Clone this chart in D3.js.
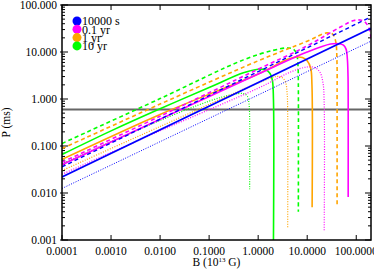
<!DOCTYPE html>
<html>
<head>
<meta charset="utf-8">
<script src="https://cdn.jsdelivr.net/npm/d3@7"></script>
<style>
  body { margin: 0; background: #fff; }
  svg { display: block; font-family: "Liberation Serif", "DejaVu Serif", serif; }
  .line { fill: none; }
</style>
</head>
<body>
<div id="chart"></div>
<script>
// P (ms) against B (10^13 G): [B, P]
const blueSolid = [[1e-4, 0.022], [200, 32]];
const blueDashed = [[1e-4, 0.036], [200, 56]];
const blueDotted = [[1e-4, 0.0125], [200, 17]];

const magentaSolid = [[1e-4, 0.040], [1e-2, 0.37], [1, 3.4], [10, 10], [30, 14.8], [45, 15], [55, 14],
  [62, 11.5], [66, 7], [68, 3], [68.5, 1], [68.5, 0.0082]];
const magentaDashed = [[1e-4, 0.045], [1e-2, 0.43], [1, 4.3], [10, 13.5], [50, 35], [90, 47], [120, 48],
  [150, 44], [180, 33], [200, 20]];
const magentaDotted = [[1e-4, 0.025], [1e-2, 0.21], [1, 1.7], [5, 3.9], [10, 4.8], [14, 4.7], [18, 3.8],
  [21, 2.2], [22.2, 0.8], [22.2, 0.0015]];

const orangeSolid = [[1e-4, 0.052], [1e-2, 0.47], [1, 3.4], [4, 7.0], [6, 7.8], [8, 7.6], [10, 6.5],
  [11.8, 4.5], [12.5, 2], [12.6, 0.005]];
const orangeDashed = [[1e-4, 0.088], [1e-2, 0.78], [1, 6.5], [10, 17], [25, 25.5], [33, 24], [38, 17],
  [40.5, 6], [40.7, 1], [40.7, 0.005]];
const orangeDotted = [[1e-4, 0.030], [1e-2, 0.26], [1, 2.2], [2.3, 3.0], [3.0, 2.9], [3.6, 2.3],
  [3.9, 1.3], [4.0, 0.5], [4.0, 0.0018]];

const greenSolid = [[1e-4, 0.066], [1e-3, 0.21], [1e-2, 0.62], [0.1, 1.75], [0.5, 3.6], [1, 4.3],
  [1.4, 4.2], [1.75, 3.5], [1.95, 2.5], [2.05, 1], [2.05, 0.0009]];
const greenDashed = [[1e-4, 0.113], [1e-2, 1.02], [0.5, 6.8], [2, 10.8], [4, 12.2], [5.3, 11.4],
  [6.1, 9], [6.5, 5], [6.6, 2], [6.6, 0.004]];
const greenDotted = [[1e-4, 0.042], [1e-2, 0.35], [0.1, 0.9], [0.3, 1.25], [0.5, 1.3], [0.6, 1.15],
  [0.65, 0.8], [0.67, 0.4], [0.67, 0.012]];

const refPeriod = 0.6;

const legendLabels = ['10000 s', '0.1 yr', '1 yr', '10 yr'];
const legendColors = ['#0000ff', '#ff00ff', '#ffa500', '#00ff00'];

const xTicks = [1e-4, 1e-3, 1e-2, 1e-1, 1, 10, 100];
const yTicks = [0.001, 0.01, 0.1, 1, 10, 100];

function periodChart(parent) {
  const width = 374;
  const height = 280;
  const margin = { top: 5, right: 3, bottom: 40, left: 62 };
  const innerW = width - margin.left - margin.right;
  const innerH = height - margin.top - margin.bottom;

  const x = d3.scaleLog().domain([1e-4, 200]).range([0, innerW]);
  const y = d3.scaleLog().domain([0.001, 100]).range([innerH, 0]);

  const svg = d3.select(parent).append('svg')
      .attr('width', width)
      .attr('height', height);

  svg.append('defs').append('clipPath')
      .attr('id', 'clip')
    .append('rect')
      .attr('width', innerW)
      .attr('height', innerH);

  const g = svg.append('g')
      .attr('transform', `translate(${margin.left}, ${margin.top})`);

  // minor ticks for y (2..9 in each decade)
  const yMinor = [];
  yTicks.slice(0, -1).forEach(t => {
    for (let k = 2; k <= 9; k++) yMinor.push(t * k);
  });

  // axes, ticks inward
  const fy = d3.format('.3f');
  const fx = d3.format('.4f');

  const left = g.append('g').attr('class', 'y axis');
  left.selectAll('.major').data(yTicks).enter().append('line')
      .attr('x1', -2).attr('x2', 6)
      .attr('y1', d => y(d)).attr('y2', d => y(d))
      .attr('stroke', '#000').attr('stroke-width', 1);
  left.selectAll('.minor').data(yMinor).enter().append('line')
      .attr('x1', 0).attr('x2', 3)
      .attr('y1', d => y(d)).attr('y2', d => y(d))
      .attr('stroke', '#000').attr('stroke-width', 1);
  left.selectAll('text').data(yTicks).enter().append('text')
      .attr('x', -5)
      .attr('y', d => y(d))
      .attr('dy', '0.35em')
      .attr('text-anchor', 'end')
      .attr('font-size', 11.5)
      .text(fy);

  const right = g.append('g').attr('transform', `translate(${innerW}, 0)`);
  right.selectAll('.major').data(yTicks).enter().append('line')
      .attr('x1', -6).attr('x2', 0)
      .attr('y1', d => y(d)).attr('y2', d => y(d))
      .attr('stroke', '#000').attr('stroke-width', 1);
  right.selectAll('.minor').data(yMinor).enter().append('line')
      .attr('x1', -3).attr('x2', 0)
      .attr('y1', d => y(d)).attr('y2', d => y(d))
      .attr('stroke', '#000').attr('stroke-width', 1);

  const bottom = g.append('g').attr('transform', `translate(0, ${innerH})`);
  bottom.selectAll('line').data(xTicks).enter().append('line')
      .attr('x1', d => x(d)).attr('x2', d => x(d))
      .attr('y1', 0).attr('y2', -5)
      .attr('stroke', '#000').attr('stroke-width', 1);
  bottom.selectAll('text').data(xTicks).enter().append('text')
      .attr('x', d => x(d))
      .attr('y', 15)
      .attr('text-anchor', 'middle')
      .attr('font-size', 11.5)
      .text(fx);

  g.append('g').selectAll('line').data(xTicks).enter().append('line')
      .attr('x1', d => x(d)).attr('x2', d => x(d))
      .attr('y1', 0).attr('y2', 5)
      .attr('stroke', '#000').attr('stroke-width', 1);

  // reference period
  g.append('line')
      .attr('x1', 0).attr('x2', innerW)
      .attr('y1', y(refPeriod)).attr('y2', y(refPeriod))
      .attr('stroke', '#666')
      .attr('stroke-width', 2);

  // curves
  const series = [
    { data: greenDotted, color: legendColors[3], dash: '1,1.5', w: 1.2 },
    { data: greenDashed, color: legendColors[3], dash: '4,3', w: 1.6 },
    { data: greenSolid, color: legendColors[3], dash: null, w: 1.6 },
    { data: orangeDotted, color: legendColors[2], dash: '1,1.5', w: 1.2 },
    { data: orangeDashed, color: legendColors[2], dash: '4,3', w: 1.6 },
    { data: orangeSolid, color: legendColors[2], dash: null, w: 1.6 },
    { data: magentaDotted, color: legendColors[1], dash: '1,1.5', w: 1.2 },
    { data: magentaDashed, color: legendColors[1], dash: '4,3', w: 1.6 },
    { data: magentaSolid, color: legendColors[1], dash: null, w: 1.6 },
    { data: blueDotted, color: legendColors[0], dash: '1,1.5', w: 1 },
    { data: blueDashed, color: legendColors[0], dash: '4,3', w: 1.4 },
    { data: blueSolid, color: legendColors[0], dash: null, w: 1.6 }
  ];

  const line = d3.line()
      .curve(d3.curveCatmullRom.alpha(0.5))
      .x(d => x(d[0]))
      .y(d => y(d[1]));

  g.append('g').attr('clip-path', 'url(#clip)')
    .selectAll('path').data(series).enter().append('path')
      .attr('class', 'line')
      .attr('d', d => line(d.data))
      .attr('stroke', d => d.color)
      .attr('stroke-width', d => d.w)
      .attr('stroke-dasharray', d => d.dash);

  // frame
  g.append('rect')
      .attr('width', innerW)
      .attr('height', innerH)
      .attr('fill', 'none')
      .attr('stroke', '#000')
      .attr('stroke-width', 1.5);

  // legend
  const legend = g.append('g').attr('transform', 'translate(15, 16)');
  const item = legend.selectAll('g').data(legendLabels).enter().append('g')
      .attr('transform', (d, i) => `translate(0, ${i * 8.3})`);
  item.append('circle')
      .attr('r', 4.5)
      .attr('fill', (d, i) => legendColors[i]);
  item.append('text')
      .attr('x', 5)
      .attr('dy', '0.36em')
      .attr('font-size', 12)
      .text(d => d);

  // axis labels
  svg.append('text')
      .attr('transform', `translate(10, ${margin.top + innerH / 2}) rotate(-90)`)
      .attr('text-anchor', 'middle')
      .attr('font-size', 11.5)
      .text('P (ms)');

  const xl = svg.append('text')
      .attr('x', margin.left + innerW / 2)
      .attr('y', 266)
      .attr('text-anchor', 'middle')
      .attr('font-size', 11.5);
  xl.append('tspan').text('B (10');
  xl.append('tspan').attr('font-size', 7).attr('dy', -4).text('13');
  xl.append('tspan').attr('dy', 4).text(' G)');
}

periodChart('#chart');
</script>
</body>
</html>
